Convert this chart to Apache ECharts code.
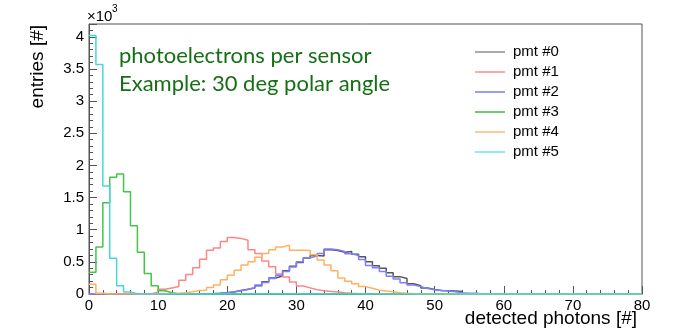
<!DOCTYPE html>
<html>
<head>
<meta charset="utf-8">
<script src="https://cdn.jsdelivr.net/npm/echarts@6/dist/echarts.min.js"></script>
<style>html,body{margin:0;padding:0;background:#fff}#c{width:674px;height:332px}</style>
</head>
<body>
<div id="c"></div>
<script>
// bin lower edges are 0..79 (bin width 1 photon)
const seriesNames = ['pmt #0', 'pmt #1', 'pmt #2', 'pmt #3', 'pmt #4', 'pmt #5'];
const pmt0 = [0,0,0,0,0,0,0,0,0,0,
  0,0,0,0,0,0,0,5,10,18,
  30,55,75,95,130,190,250,280,360,430,
  490,560,600,590,690,675,650,660,620,580,
  500,440,400,330,270,240,160,130,95,70,
  55,50,45,40,0,0,0,0,0,0,
  0,0,0,0,0,0,0,0,0,0,
  0,0,0,0,0,0,0,0,0,0];
const pmt1 = [0,0,0,0,0,0,0,0,0,30,
  75,95,115,215,305,410,540,680,715,815,
  880,865,835,690,630,515,425,310,265,185,
  125,95,65,50,40,30,20,12,8,5,
  3,0,0,0,0,0,0,0,0,0,
  0,0,0,0,0,0,0,0,0,0,
  0,0,0,0,0,0,0,0,0,0,
  0,0,0,0,0,0,0,0,0,0];
const pmt2 = [0,0,0,0,0,0,0,0,0,0,
  0,0,0,0,0,0,0,5,10,20,
  35,50,70,100,140,180,240,290,350,420,
  500,565,590,630,700,690,660,625,600,535,
  445,410,350,275,235,175,140,115,85,65,
  55,45,35,20,10,10,0,0,0,0,
  0,0,0,0,0,0,0,0,0,0,
  0,0,0,0,0,0,0,0,0,0];
const pmt3 = [340,730,1420,1815,1865,1590,1060,650,320,130,
  50,20,5,0,0,0,0,0,0,0,
  0,0,0,0,0,0,0,0,0,0,
  0,0,0,0,0,0,0,0,0,0,
  0,0,0,0,0,0,0,0,0,0,
  0,0,0,0,0,0,0,0,0,0,
  0,0,0,0,0,0,0,0,0,0,
  0,0,0,0,0,0,0,0,0,0];
const pmt4 = [150,10,0,0,0,0,0,0,0,0,
  5,8,12,20,35,55,60,100,140,220,
  290,370,450,500,570,630,690,730,760,680,
  680,675,610,530,450,360,250,200,160,115,
  88,60,45,35,20,12,8,5,3,0,
  0,0,0,0,0,0,0,0,0,0,
  0,0,0,0,0,0,0,0,0,0,
  0,0,0,0,0,0,0,0,0,0];
const pmt5 = [4020,3570,1680,555,130,30,5,0,0,0,
  0,0,0,0,0,0,0,0,0,0,
  0,0,0,0,0,0,0,0,0,0,
  0,0,0,0,0,0,0,0,0,0,
  0,0,0,0,0,0,0,0,0,0,
  0,0,0,0,0,0,0,0,0,0,
  0,0,0,0,0,0,0,0,0,0,
  0,0,0,0,0,0,0,0,0,0];
const allValues = [pmt0, pmt1, pmt2, pmt3, pmt4, pmt5];
const lineColors = ['#555555', '#ff8585', '#7f7fff', '#45c445', '#ffb060', '#45d8d8'];
const legendColors = ['#aaaaaa', '#ffaaaa', '#9d9def', '#6ccc6c', '#ffc99a', '#8ceeee'];
const xMin = 0, xMax = 80, xStep = 10;
const yMin = 0, yMax = 4200, yStep = 500, yMinorStep = 100;

function toSteps(vals) {
  const d = vals.map((v, i) => [i, v]);
  d.push([vals.length, vals[vals.length - 1]]);
  return d;
}

const chart = echarts.init(document.getElementById('c'), null, {renderer: 'canvas'});
const axisCol = '#555';
const fontF = '"Liberation Sans", Arial, sans-serif';
chart.setOption({
  animation: false,
  backgroundColor: '#fff',
  grid: {left: 89, right: 32, top: 24, bottom: 38, show: true, borderColor: axisCol, borderWidth: 1, backgroundColor: 'transparent'},
  xAxis: {
    type: 'value', min: xMin, max: xMax, interval: xStep,
    axisLine: {show: true, lineStyle: {color: axisCol}},
    axisTick: {show: true, inside: true, length: 8, lineStyle: {color: axisCol}},
    minorTick: {show: true, splitNumber: 5, length: 4, lineStyle: {color: axisCol}},
    splitLine: {show: false},
    axisLabel: {color: '#000', fontSize: 15, fontFamily: fontF, margin: 4}
  },
  yAxis: [{
    type: 'value', min: yMin, max: yMax, interval: yStep, position: 'left',
    axisLine: {show: true, lineStyle: {color: axisCol}},
    axisTick: {show: true, inside: true, length: 8, lineStyle: {color: axisCol}},
    splitLine: {show: false},
    axisLabel: {color: '#000', fontSize: 15, fontFamily: fontF, margin: 5,
      formatter: v => (v % yStep === 0 ? String(v / 1000) : '')}
  }, {
    type: 'value', min: yMin, max: yMax, interval: yMinorStep, position: 'left', offset: 0,
    axisLine: {show: false},
    axisTick: {show: true, inside: true, length: 4, lineStyle: {color: axisCol}},
    splitLine: {show: false},
    axisLabel: {show: false}
  }],
  legend: {
    orient: 'vertical', left: 475, top: 42, itemWidth: 30, itemHeight: 2, itemGap: 0,
    icon: 'rect', padding: 0,
    textStyle: {fontSize: 15, lineHeight: 20, color: '#000', fontFamily: fontF, padding: [0, 0, 0, 3]},
    data: seriesNames.map((n, i) => ({name: n, itemStyle: {color: legendColors[i]}}))
  },
  series: allValues.map((vals, i) => ({
    name: seriesNames[i], type: 'line', step: 'end', symbol: 'none',
    yAxisIndex: 0,
    color: lineColors[i],
    lineStyle: {width: 1.5, color: lineColors[i]},
    data: toSteps(vals)
  })),
  graphic: [
    {type: 'text', left: 87, top: 9, style: {text: '×10', fontSize: 15, fontFamily: fontF, fill: '#000'}},
    {type: 'text', left: 112, top: 4, style: {text: '3', fontSize: 10, fontFamily: fontF, fill: '#000'}},
    {type: 'text', x: 37.5, y: 25, rotation: Math.PI / 2,
      style: {text: 'entries [#]', fontSize: 19, fontFamily: fontF, fill: '#000', align: 'right', verticalAlign: 'middle'}},
    {type: 'text', x: 637, y: 319,
      style: {text: 'detected photons [#]', fontSize: 19, fontFamily: fontF, fill: '#000', align: 'right', verticalAlign: 'middle'}},
    {type: 'text', x: 119, y: 56,
      style: {text: 'photoelectrons per sensor', fontSize: 22, fontFamily: 'Lato', fill: '#157015', align: 'left', verticalAlign: 'middle'}},
    {type: 'text', x: 119, y: 84,
      style: {text: 'Example: 30 deg polar angle', fontSize: 22, fontFamily: 'Lato', fill: '#157015', align: 'left', verticalAlign: 'middle'}}
  ]
});
</script>
</body>
</html>
